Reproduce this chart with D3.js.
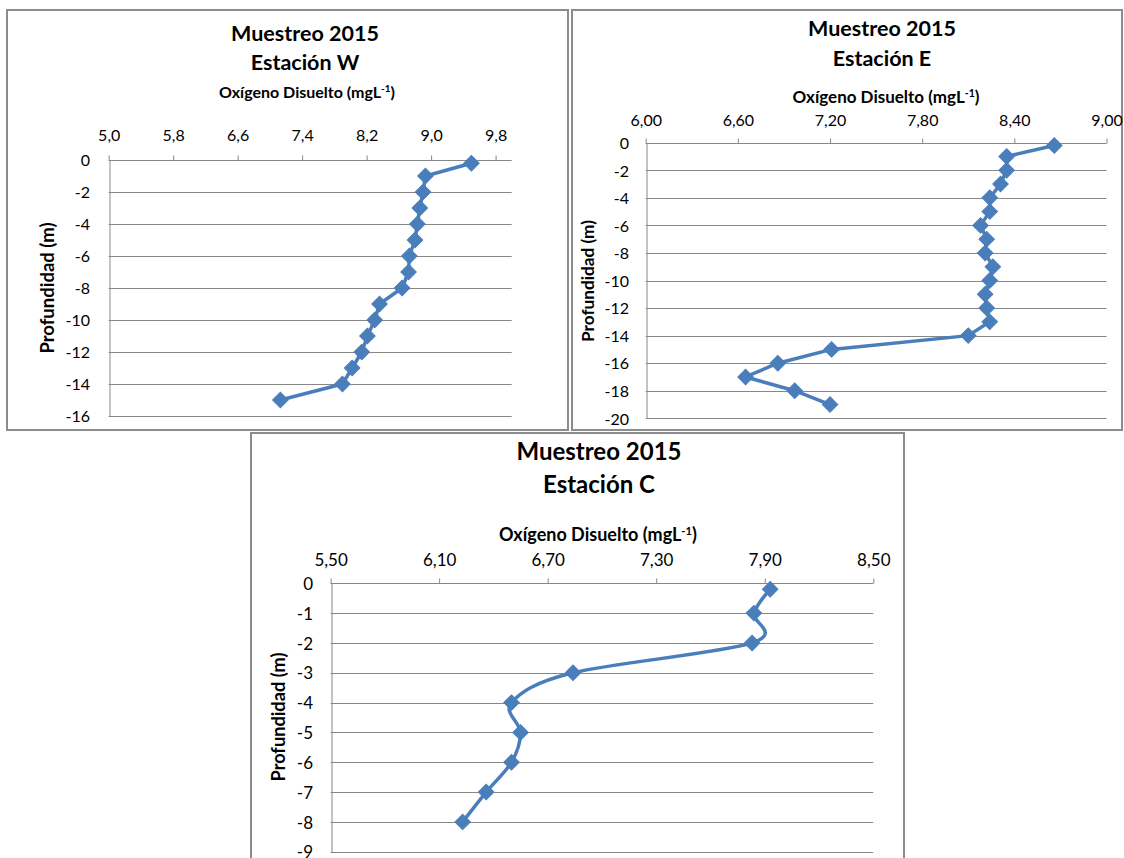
<!DOCTYPE html>
<html>
<head>
<meta charset="utf-8">
<script src="https://cdn.jsdelivr.net/npm/d3@7"></script>
<style>
  html, body { margin: 0; padding: 0; background: #ffffff; }
  svg { display: block; }
  text { font-family: Lato, "Open Sans", "Liberation Sans", sans-serif; fill: #000; }
</style>
</head>
<body>
<svg id="chart" width="1124" height="858"></svg>
<script>
// ---------- DATA ----------
const title1 = "Muestreo 2015";
const xAxisTitle = "Oxígeno Disuelto (mgL";
const yAxisTitle = "Profundidad (m)";

const wTitle = "Estación W";
const wDepth  = [-0.2, -1, -2, -3, -4, -5, -6, -7, -8, -9, -10, -11, -12, -13, -14, -15];
const wOxygen = [9.50, 8.93, 8.90, 8.86, 8.83, 8.80, 8.73, 8.72, 8.64, 8.36, 8.30, 8.21, 8.14, 8.02, 7.90, 7.13];
const wXTicks = [5.0, 5.8, 6.6, 7.4, 8.2, 9.0, 9.8];
const wYTicks = [0, -2, -4, -6, -8, -10, -12, -14, -16];

const eTitle = "Estación E";
const eDepth  = [-0.2, -1, -2, -3, -4, -5, -6, -7, -8, -9, -10, -11, -12, -13, -14, -15, -16, -17, -18, -19];
const eOxygen = [8.66, 8.35, 8.35, 8.31, 8.24, 8.24, 8.18, 8.22, 8.21, 8.26, 8.24, 8.21, 8.22, 8.24, 8.10, 7.21, 6.86, 6.65, 6.97, 7.20];
const eXTicks = [6.00, 6.60, 7.20, 7.80, 8.40, 9.00];
const eYTicks = [0, -2, -4, -6, -8, -10, -12, -14, -16, -18, -20];

const cTitle = "Estación C";
const cDepth  = [-0.2, -1, -2, -3, -4, -5, -6, -7, -8];
const cOxygen = [7.93, 7.84, 7.83, 6.84, 6.50, 6.55, 6.50, 6.36, 6.23];
const cXTicks = [5.50, 6.10, 6.70, 7.30, 7.90, 8.50];
const cYTicks = [0, -1, -2, -3, -4, -5, -6, -7, -8, -9];

// ---------- LAYOUT ----------
const svg = d3.select("#chart");
const locale = d3.formatLocale({decimal: ",", thousands: ".", grouping: [3], currency: ["", ""]});
const lineColor = "#4A7EBB";
const gridColor = "#878787";

const panels = [
  { box: [7, 10, 561, 420], x: [108.7, 511.7], y: [160, 416], xDom: [5, 10], yDom: [-16, 0],
    depth: wDepth, ox: wOxygen, xt: wXTicks, yt: wYTicks, fmt: ".1f", name: wTitle, smooth: false,
    tcx: 305, t1y: 41, t2y: 70, atY: 98, atX: 307, tickY: 141, ylX: 90, ytX: 48, ytY: 288,
    tFs: 21.5, aFs: 16, kFs: 16, yFs: 18.5 },
  { box: [572, 10, 550, 420], x: [645.7, 1106.5], y: [142.7, 418.3], xDom: [6, 9], yDom: [-20, 0],
    depth: eDepth, ox: eOxygen, xt: eXTicks, yt: eYTicks, fmt: ".2f", name: eTitle, smooth: false,
    tcx: 882, t1y: 36, t2y: 66, atY: 103, atX: 886, tickY: 126, ylX: 629, ytX: 588, ytY: 281,
    tFs: 21.5, aFs: 17, kFs: 16, yFs: 17.2 },
  { box: [251, 433, 653, 440], x: [330.6, 873.3], y: [583.3, 851.7], xDom: [5.5, 8.5], yDom: [-9, 0],
    depth: cDepth, ox: cOxygen, xt: cXTicks, yt: cYTicks, fmt: ".2f", name: cTitle, smooth: true,
    tcx: 599, t1y: 460, t2y: 493, atY: 541, atX: 598, tickY: 566, ylX: 313, ytX: 279, ytY: 717,
    tFs: 24, aFs: 18, kFs: 17, yFs: 18.2 }
];

panels.forEach(p => {
  const g = svg.append("g");
  // frame
  g.append("rect")
    .attr("x", p.box[0]).attr("y", p.box[1])
    .attr("width", p.box[2]).attr("height", p.box[3])
    .attr("fill", "#fff").attr("stroke", "#8c8c8c").attr("stroke-width", 2);

  const x = d3.scaleLinear().domain(p.xDom).range(p.x);
  const y = d3.scaleLinear().domain(p.yDom).range([p.y[1], p.y[0]]);

  // gridlines
  g.append("g").selectAll("line").data(p.yt).join("line")
    .attr("x1", p.x[0]).attr("x2", p.x[1])
    .attr("y1", d => Math.round(y(d)) + 0.5).attr("y2", d => Math.round(y(d)) + 0.5)
    .attr("stroke", gridColor).attr("stroke-width", 1);

  // top axis ticks
  const f = locale.format(p.fmt);
  const xAxis = d3.axisTop(x).tickValues(p.xt).tickSize(5).tickPadding(0).tickFormat(f);
  const xa = g.append("g").attr("transform", `translate(0,${Math.round(y(0)) + 0.5})`).call(xAxis);
  xa.select(".domain").remove();
  xa.selectAll(".tick line").attr("stroke", gridColor);
  xa.selectAll(".tick text")
    .attr("y", 0).attr("dy", 0)
    .attr("transform", `translate(0,${p.tickY - (Math.round(y(0)) + 0.5)})`)
    .style("font-size", p.kFs + "px").style("font-family", "Lato, 'Open Sans', sans-serif").attr("fill", "#000");

  // left axis
  const yAxis = d3.axisLeft(y).tickValues(p.yt).tickSize(0).tickPadding(0).tickFormat(d => String(d));
  const ya = g.append("g").attr("transform", `translate(${Math.round(p.x[0]) + 0.5},0)`).call(yAxis);
  ya.select(".domain").attr("stroke", gridColor);
  ya.selectAll(".tick text")
    .attr("x", p.ylX - (Math.round(p.x[0]) + 0.5)).attr("dy", "0.36em")
    .style("font-size", p.kFs + "px").style("font-family", "Lato, 'Open Sans', sans-serif").attr("fill", "#000");

  // titles
  g.append("text").attr("x", p.tcx).attr("y", p.t1y).attr("text-anchor", "middle")
    .style("font-weight", "bold").style("font-size", p.tFs + "px").text(title1);
  g.append("text").attr("x", p.tcx).attr("y", p.t2y).attr("text-anchor", "middle")
    .style("font-weight", "bold").style("font-size", p.tFs + "px").text(p.name);
  const at = g.append("text").attr("x", p.atX).attr("y", p.atY).attr("text-anchor", "middle")
    .style("font-weight", "bold").style("font-size", p.aFs + "px");
  at.append("tspan").text(xAxisTitle);
  at.append("tspan").attr("dy", -6).style("font-size", (p.aFs * 0.62) + "px").text("-1");
  at.append("tspan").attr("dy", 6).text(")");
  g.append("text")
    .attr("transform", `translate(${p.ytX},${p.ytY}) rotate(-90)`)
    .attr("text-anchor", "middle").attr("dy", "0.35em")
    .style("font-weight", "bold").style("font-size", p.yFs + "px").text(yAxisTitle);

  // series
  const pts = p.depth.map((d, i) => [p.ox[i], d]);
  const line = d3.line().x(d => x(d[0])).y(d => y(d[1]))
    .curve(p.smooth ? d3.curveCardinal.tension(0) : d3.curveLinear);
  g.append("path").datum(pts).attr("d", line)
    .attr("fill", "none").attr("stroke", lineColor).attr("stroke-width", 3.5)
    .attr("stroke-linejoin", "round").attr("stroke-linecap", "round");
  const sym = d3.symbol().type(d3.symbolSquare).size(120);
  g.append("g").selectAll("path").data(pts).join("path")
    .attr("d", sym)
    .attr("transform", d => `translate(${x(d[0])},${y(d[1])}) rotate(45)`)
    .attr("fill", lineColor).attr("stroke", lineColor).attr("stroke-width", 1);
});
</script>
</body>
</html>
